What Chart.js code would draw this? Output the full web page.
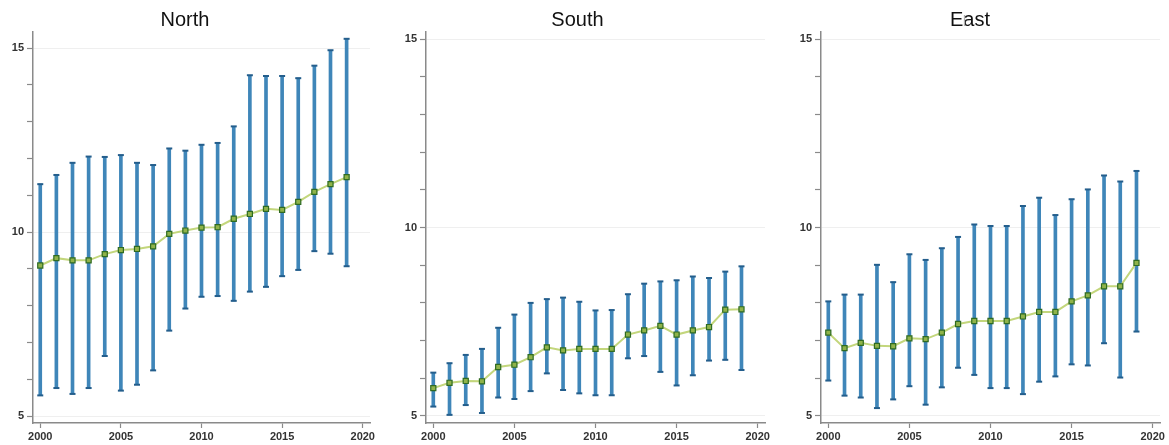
<!DOCTYPE html>
<html>
<head>
<meta charset="utf-8">
<script src="https://cdn.jsdelivr.net/npm/chart.js@4.4.1/dist/chart.umd.min.js"></script>
<style>
  html, body { margin: 0; padding: 0; background: #fff; overflow: hidden; width: 1169px; height: 445px; }
  canvas { position: absolute; top: 0; }
</style>
</head>
<body>
<canvas id="north" width="410" height="445" style="left:0px"></canvas>
<canvas id="south" width="434" height="445" style="left:390px"></canvas>
<canvas id="east" width="460" height="445" style="left:780px"></canvas>
<script>
// Years on the horizontal axis
const years = [2000, 2001, 2002, 2003, 2004, 2005, 2006, 2007, 2008, 2009,
               2010, 2011, 2012, 2013, 2014, 2015, 2016, 2017, 2018, 2019];

// Tick values
const xTickValues = [2000, 2005, 2010, 2015, 2020];
const yTickValues = [5, 6, 7, 8, 9, 10, 11, 12, 13, 14, 15];
const yLabelValues = [5, 10, 15];

// North: mean with lower / upper bounds
const northMean = [9.09, 9.29, 9.23, 9.23, 9.40, 9.51, 9.54, 9.61, 9.95, 10.04,
                   10.12, 10.13, 10.36, 10.49, 10.63, 10.60, 10.82, 11.09, 11.30, 11.49];
const northLow  = [5.56, 5.76, 5.60, 5.76, 6.63, 5.69, 5.85, 6.24, 7.32, 7.92,
                   8.24, 8.26, 8.13, 8.38, 8.51, 8.80, 8.97, 9.48, 9.41, 9.07];
const northHigh = [11.30, 11.55, 11.88, 12.05, 12.04, 12.09, 11.88, 11.82, 12.27, 12.21,
                   12.37, 12.42, 12.87, 14.26, 14.24, 14.24, 14.18, 14.52, 14.94, 15.25];

// South
const southMean = [5.74, 5.88, 5.93, 5.92, 6.30, 6.36, 6.56, 6.82, 6.74, 6.78,
                   6.78, 6.78, 7.16, 7.27, 7.39, 7.16, 7.27, 7.36, 7.82, 7.83];
const southLow  = [5.25, 5.03, 5.29, 5.08, 5.49, 5.45, 5.66, 6.13, 5.69, 5.60,
                   5.55, 5.55, 6.53, 6.59, 6.17, 5.81, 6.08, 6.47, 6.49, 6.22];
const southHigh = [6.15, 6.40, 6.62, 6.78, 7.34, 7.69, 8.00, 8.10, 8.14, 8.03,
                   7.80, 7.81, 8.23, 8.51, 8.57, 8.60, 8.70, 8.66, 8.83, 8.97];

// East
const eastMean = [7.21, 6.80, 6.94, 6.86, 6.85, 7.06, 7.04, 7.21, 7.44, 7.52,
                  7.52, 7.52, 7.64, 7.76, 7.76, 8.04, 8.20, 8.44, 8.44, 9.06];
const eastLow  = [5.94, 5.54, 5.49, 5.21, 5.44, 5.79, 5.30, 5.76, 6.28, 6.09,
                  5.74, 5.74, 5.58, 5.91, 6.05, 6.37, 6.34, 6.93, 6.02, 7.24];
const eastHigh = [8.04, 8.22, 8.22, 9.01, 8.55, 9.29, 9.14, 9.45, 9.75, 10.08,
                  10.04, 10.04, 10.57, 10.79, 10.33, 10.75, 11.01, 11.38, 11.22, 11.50];

const FONT = "'Liberation Sans', Arial, Helvetica, sans-serif";
const AXIS_GREY = '#8a8a8a';
const BAR_BLUE = '#3f86b9';
const CAP_BLUE = '#245e8c';
const LINE_GREEN = '#c3d67c';
const MARK_FILL = '#8fb34a';
const MARK_EDGE = '#2f6b22';

// Small grey stroke drawn beside a heading
function headingMark(x) {
  return {
    id: 'headingMark',
    afterDraw(chart) {
      const c = chart.ctx;
      c.save();
      c.strokeStyle = '#b0b0b0';
      c.lineWidth = 1.3;
      c.beginPath();
      c.moveTo(x + 0.5, 15);
      c.lineTo(x + 0.5, 26);
      c.stroke();
      c.restore();
    }
  };
}

function makePanel(id, title, mean, low, high, layout) {
  const whiskers = years.map((yr, i) => ({ x: yr, y: [low[i], high[i]] }));
  const tops = years.map((yr, i) => ({ x: yr, y: high[i] }));
  const bottoms = years.map((yr, i) => ({ x: yr, y: low[i] }));
  const means = years.map((yr, i) => ({ x: yr, y: mean[i] }));

  const options = {
    responsive: false,
    animation: false,
    events: [],
    layout: { padding: { left: 0, right: layout.rightPad, top: 0, bottom: 0 } },
    plugins: {
      legend: { display: false },
      tooltip: { enabled: false },
      title: {
        display: true, text: title, color: '#111',
        font: { family: FONT, size: 20, weight: 'normal' },
        padding: { top: 8, bottom: 0 }
      }
    },
    scales: {
      x: {
        type: 'linear', min: 1999.55, max: 2020.45, offset: false,
        afterBuildTicks: s => { s.ticks = xTickValues.map(v => ({ value: v })); },
        afterFit: s => { s.height = 22; },
        ticks: {
          autoSkip: false, maxRotation: 0, padding: 2, color: '#333',
          font: { family: FONT, size: 11, weight: 'bold' },
          callback: v => String(v)
        },
        grid: { offset: false, drawOnChartArea: false, tickLength: 5, tickColor: AXIS_GREY, tickWidth: 1.2 },
        border: { color: AXIS_GREY, width: 1.5 }
      },
      y: {
        type: 'linear', min: layout.yMin, max: layout.yMax,
        afterBuildTicks: s => { s.ticks = yTickValues.map(v => ({ value: v })); },
        afterFit: s => { s.width = layout.yWidth; },
        ticks: {
          autoSkip: false, padding: 3, color: '#333',
          font: { family: FONT, size: 11, weight: 'bold' },
          callback: v => (yLabelValues.includes(v) ? String(v) : '')
        },
        grid: {
          color: ctx => (ctx.tick && yLabelValues.includes(ctx.tick.value) ? '#efefef' : 'rgba(0,0,0,0)'),
          lineWidth: 1, tickLength: 6, tickColor: AXIS_GREY, tickWidth: 1.2
        },
        border: { color: AXIS_GREY, width: 1.5 }
      }
    }
  };

  new Chart(document.getElementById(id), {
    type: 'line',
    data: {
      datasets: [
        {
          type: 'line', data: means, order: 0,
          borderColor: LINE_GREEN, borderWidth: 2, tension: 0,
          pointStyle: 'rect', pointRadius: 3.6,
          pointBackgroundColor: MARK_FILL, pointBorderColor: MARK_EDGE, pointBorderWidth: 1.2
        },
        {
          type: 'line', data: tops, order: 1, showLine: false,
          pointStyle: 'line', pointRadius: 3, pointBorderWidth: 2,
          pointBorderColor: CAP_BLUE, pointBackgroundColor: CAP_BLUE
        },
        {
          type: 'line', data: bottoms, order: 1, showLine: false,
          pointStyle: 'line', pointRadius: 3, pointBorderWidth: 2,
          pointBorderColor: CAP_BLUE, pointBackgroundColor: CAP_BLUE
        },
        {
          type: 'bar', data: whiskers, order: 2,
          backgroundColor: BAR_BLUE, borderWidth: 0, barThickness: 3
        }
      ]
    },
    options,
    plugins: layout.markX !== undefined ? [headingMark(layout.markX)] : []
  });
}

makePanel('north', 'North', northMean, northLow, northHigh,
  { yMin: 4.81, yMax: 15.435, yWidth: 33, rightPad: 40 });
makePanel('south', 'South', southMean, southLow, southHigh,
  { yMin: 4.814, yMax: 15.186, yWidth: 36, rightPad: 59 });
makePanel('east', 'East', eastMean, eastLow, eastHigh,
  { yMin: 4.814, yMax: 15.186, yWidth: 41, rightPad: 80, markX: 184 });
</script>
</body>
</html>
